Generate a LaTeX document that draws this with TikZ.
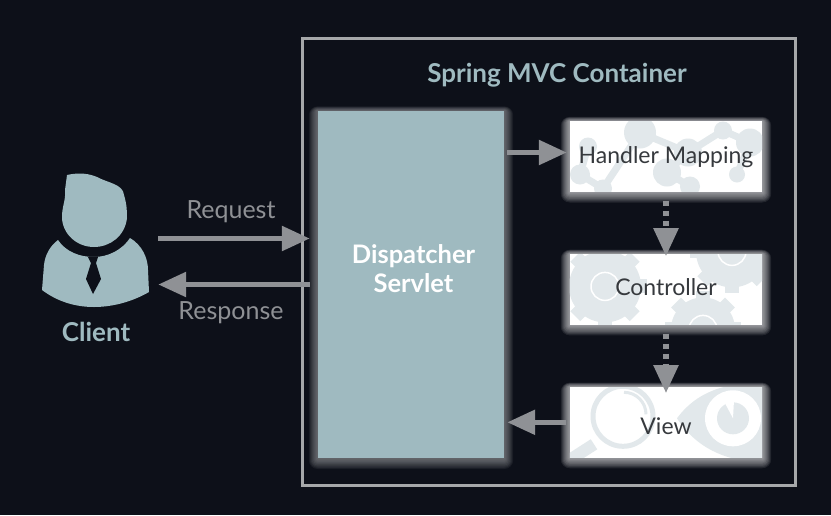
\documentclass[tikz,border=0pt]{standalone}
\usepackage{fontspec}
\setmainfont{Lato}
\usepackage{xcolor}
\usepackage{tikz}
\usetikzlibrary{arrows.meta,positioning,backgrounds}
\definecolor{SpringNight}{HTML}{0D1019}
\definecolor{SpringTeal}{HTML}{9FBAC0}
\definecolor{SpringGray}{HTML}{8F9195}
\definecolor{SpringFrame}{HTML}{A6A8AA}
\definecolor{SpringInk}{HTML}{36393D}
\definecolor{SpringPale}{HTML}{E2E8EB}
\newcommand{\softglow}[2]{%
  \foreach \gr in {1,...,9}
    \fill[#2, opacity=.09, rounded corners=\gr pt] ([xshift=-\gr pt, yshift=-1.2*\gr pt]#1.south west) rectangle ([xshift=\gr pt, yshift=.5*\gr pt]#1.north east);}
\newcommand{\gearwheel}[3]{%
  \begin{scope}[shift={(#1,#2)}]
    \fill[SpringPale] (0,0) circle (#3);
    \foreach \ang in {0,45,...,315}
      \fill[SpringPale, rotate=\ang] (-7,-#3-6) rectangle (7,-#3+2);
    \draw[white, line width=1.5pt] (0,0) circle (14);
  \end{scope}}
\newcommand{\steptext}[2]{\raisebox{#1}[0pt][0pt]{#2}}
\tikzset{
  framebox/.style={draw=SpringFrame, line width=3pt, minimum width=493pt, minimum height=447pt},
  servletbox/.style={fill=SpringTeal, minimum width=186pt, minimum height=347pt},
  servletlabel/.style={text=white, align=center, font=\fontsize{25.5}{29}\selectfont\bfseries},
  stepbox/.style={text=SpringInk, font=\fontsize{23}{27}\selectfont,
    minimum width=192pt, minimum height=70pt, inner sep=0pt},
  tinted/.style={text=SpringTeal, font=\fontsize{26}{30}\selectfont\bfseries},
  plainlabel/.style={text=SpringGray, font=\fontsize{25}{30}\selectfont},
  blob/.style={fill=SpringPale},
  wire/.style={-{Triangle[length=28pt, width=24pt]}, draw=SpringGray, line width=5.5pt},
  dottedwire/.style={wire, dash pattern=on 5pt off 5pt}
}
\begin{document}
\begin{tikzpicture}[x=1pt, y=-1pt, node distance=62.5pt]
  \path[use as bounding box] (0,0) rectangle (831,515);
  \node[framebox] (container) at (548.5,261.5) {};
  \node[tinted] (title) at (557,75) {Spring MVC Container};
  \node[servletbox] (dispatcher) at (411,284.5) {};
  \node[servletlabel] (servletname) at (413.5,268.5) {Dispatcher\\Servlet};
  \node[stepbox] (handler) at (666,156.5) {\steptext{-6.5pt}{Handler Mapping}};
  \node[stepbox, below=of handler] (controller) {\steptext{-6.5pt}{Controller}};
  \node[stepbox, below=of controller] (view) {\steptext{-12pt}{View}};
  % client figure
  \node[minimum width=108pt, minimum height=134pt, inner sep=0pt] (client) at (96,238.5) {};
  \fill[SpringTeal] (67,175) .. controls (80,172) and (90,174) .. (97,177) .. controls (108,183) and (123,184) .. (124,195) .. controls (127,205) and (127,212) .. (127,218)
    .. controls (125,236) and (110,247) .. (94,247) .. controls (76,247) and (62,233) .. (62,217) .. controls (62,206) and (66,200) .. (65,190) -- cycle;
  \fill[SpringTeal] (58,240) .. controls (66,252) and (80,257) .. (94,257) .. controls (108,257) and (122,250) .. (130,238)
    .. controls (142,245) and (148,258) .. (148,270) -- (149,292) .. controls (130,303) and (110,307) .. (94,307)
    .. controls (76,307) and (58,302) .. (42,290) -- (44,265) .. controls (45,255) and (50,246) .. (58,240) -- cycle;
  \fill[SpringNight] (88,257) -- (98,257) -- (96,263) -- (101,279) -- (93,294) -- (86,279) -- (91,263) -- cycle;
  \node[tinted, below=13pt of client] (clientlabel) {Client};
  \node[plainlabel] (request) at (231,211.5) {Request};
  \node[plainlabel] (response) at (231,313) {Response};
  \draw[wire, shorten <=8pt, shorten >=8pt] (client.east) -- (dispatcher.west |- client.east);
  \draw[wire, shorten <=8pt, shorten >=8pt] (dispatcher.west) -- (client.east |- dispatcher.west);
  \draw[wire, shorten <=3pt, shorten >=3pt] ([yshift=4pt]dispatcher.east |- handler.west) -- ([yshift=4pt]handler.west);
  \draw[dottedwire, shorten <=9pt, shorten >=-2pt] (handler.south) -- (controller.north);
  \draw[dottedwire, shorten <=9pt, shorten >=-6pt] (controller.south) -- (view.north);
  \draw[wire, shorten <=4pt, shorten >=3pt] (view.west) -- (dispatcher.east |- view.west);
  % glow and box faces sit under the labels
  \begin{scope}[on background layer]
    \fill[SpringNight] (0,0) rectangle (831,515);
    \softglow{dispatcher}{SpringFrame}
    \softglow{handler}{white}
    \softglow{controller}{white}
    \softglow{view}{white}
    \fill[SpringTeal] (dispatcher.south west) rectangle (dispatcher.north east);
    \begin{scope}
      \clip (handler.south west) rectangle (handler.north east);
      \fill[white] (handler.south west) rectangle (handler.north east);
      \begin{scope}[shift={(handler.center)}]
        \draw[SpringPale, line width=7pt] (-78,-10) -- (-86,18) -- (-63,32) -- (-26,-24) -- (22,-4) -- (1,16) -- (24,30) (22,-4) -- (57,-26) -- (84,-14) -- (71,18);
        \foreach \px/\py/\pr in {-26/-24/16, 57/-26/9, -78/-10/9, -86/18/10, -63/32/9, 1/16/14, 22/-4/14, 24/30/10, 71/18/8, 84/-14/14}
          \fill[blob] (\px,\py) circle (\pr);
      \end{scope}
    \end{scope}
    \begin{scope}
      \clip (controller.south west) rectangle (controller.north east);
      \fill[white] (controller.south west) rectangle (controller.north east);
      \begin{scope}[shift={(controller.center)}]
        \gearwheel{-61}{-3}{36}
        \gearwheel{66}{-38}{36}
        \gearwheel{37}{40}{32}
      \end{scope}
    \end{scope}
    \begin{scope}
      \clip (view.south west) rectangle (view.north east);
      \fill[white] (view.south west) rectangle (view.north east);
      \begin{scope}[shift={(view.center)}]
        \draw[SpringPale, line width=5pt] (-43,-6) circle (30);
        \draw[SpringPale, line width=3pt] (-20,-8) arc (0:-90:22);
        \draw[SpringPale, line width=12pt] (-72,22) -- (-100,40);
        \fill[blob] (11,-4) .. controls (30,-30) and (60,-42) .. (110,-40) -- (110,40) .. controls (60,42) and (30,25) .. (11,-4) -- cycle;
        \fill[white] (67,-4) circle (28);
        \fill[blob] (67,-4) circle (16);
        \fill[white] (67,-4) -- (58,-21) -- (68,-22) -- cycle;
      \end{scope}
    \end{scope}
  \end{scope}
\end{tikzpicture}
\end{document}
